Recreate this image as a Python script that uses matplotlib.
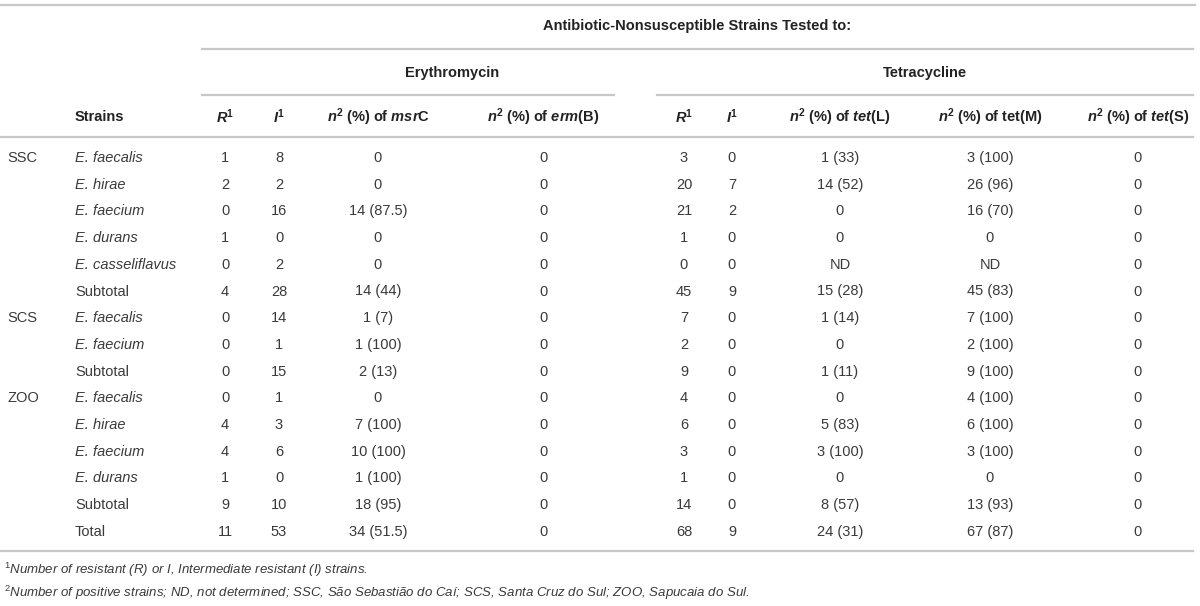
import matplotlib
matplotlib.use('Agg')
import matplotlib.pyplot as plt

plt.rcParams['font.family'] = ['Liberation Sans', 'DejaVu Sans']
plt.rcParams['mathtext.fontset'] = 'custom'
plt.rcParams['mathtext.rm'] = 'Liberation Sans'
plt.rcParams['mathtext.it'] = 'Liberation Sans:italic'
plt.rcParams['mathtext.bf'] = 'Liberation Sans:bold'
plt.rcParams['mathtext.bfit'] = 'Liberation Sans:bold:italic'

# table data
sites = ['SSC', '', '', '', '', '', 'SCS', '', '', 'ZOO', '', '', '', '', '']
strains = ['E. faecalis', 'E. hirae', 'E. faecium', 'E. durans', 'E. casseliflavus', 'Subtotal',
           'E. faecalis', 'E. faecium', 'Subtotal',
           'E. faecalis', 'E. hirae', 'E. faecium', 'E. durans', 'Subtotal',
           'Total']
ery_R = ['1', '2', '0', '1', '0', '4', '0', '0', '0', '0', '4', '4', '1', '9', '11']
ery_I = ['8', '2', '16', '0', '2', '28', '14', '1', '15', '1', '3', '6', '0', '10', '53']
msrC = ['0', '0', '14 (87.5)', '0', '0', '14 (44)', '1 (7)', '1 (100)', '2 (13)',
        '0', '7 (100)', '10 (100)', '1 (100)', '18 (95)', '34 (51.5)']
ermB = ['0'] * 15
tet_R = ['3', '20', '21', '1', '0', '45', '7', '2', '9', '4', '6', '3', '1', '14', '68']
tet_I = ['0', '7', '2', '0', '0', '9', '0', '0', '0', '0', '0', '0', '0', '0', '9']
tetL = ['1 (33)', '14 (52)', '0', '0', 'ND', '15 (28)', '1 (14)', '0', '1 (11)',
        '0', '5 (83)', '3 (100)', '0', '8 (57)', '24 (31)']
tetM = ['3 (100)', '26 (96)', '16 (70)', '0', 'ND', '45 (83)', '7 (100)', '2 (100)', '9 (100)',
        '4 (100)', '6 (100)', '3 (100)', '0', '13 (93)', '67 (87)']
tetS = ['0'] * 15

col_headers = [r'$\mathbfit{R}^{\mathbf{1}}$', r'$\mathbfit{I}^{\mathbf{1}}$',
               r'$\mathbfit{n}^{\mathbf{2}}\mathbf{\ (\%)\ of\ }\mathbfit{msr}\mathbf{C}$',
               r'$\mathbfit{n}^{\mathbf{2}}\mathbf{\ (\%)\ of\ }\mathbfit{erm}\mathbf{(B)}$',
               r'$\mathbfit{R}^{\mathbf{1}}$', r'$\mathbfit{I}^{\mathbf{1}}$',
               r'$\mathbfit{n}^{\mathbf{2}}\mathbf{\ (\%)\ of\ }\mathbfit{tet}\mathbf{(L)}$',
               r'$\mathbfit{n}^{\mathbf{2}}\mathbf{\ (\%)\ of\ tet(M)}$',
               r'$\mathbfit{n}^{\mathbf{2}}\mathbf{\ (\%)\ of\ }\mathbfit{tet}\mathbf{(S)}$']
columns = [ery_R, ery_I, msrC, ermB, tet_R, tet_I, tetL, tetM, tetS]
col_x = [225, 279, 378, 543, 684, 732, 840, 990, 1138]

footnotes = [r'$^{\mathit{1}}$Number of resistant (R) or I, Intermediate resistant (I) strains.',
             r'$^{\mathit{2}}$Number of positive strains; ND, not determined; SSC, São Sebastião do Caí; '
             r'SCS, Santa Cruz do Sul; ZOO, Sapucaia do Sul.']

fig = plt.figure(figsize=(12, 6.06), dpi=100)
ax = fig.add_axes([0, 0, 1, 1])
ax.set_xlim(0, 1200)
ax.set_ylim(606, 0)
ax.axis('off')

line_c = '#c8c8c8'
txt_c = '#3a3a3a'
head_c = '#222222'
fs = 10.5

# horizontal rules
ax.plot([0, 1195], [5, 5], color=line_c, lw=1.6)
ax.plot([202, 1193], [49, 49], color=line_c, lw=1.6)
ax.plot([202, 614], [95, 95], color=line_c, lw=1.6)
ax.plot([657, 1193], [95, 95], color=line_c, lw=1.6)
ax.plot([0, 1193], [137, 137], color=line_c, lw=1.6)
ax.plot([0, 1193], [551, 551], color=line_c, lw=1.6)

# spanning headers
ax.text(697, 26, 'Antibiotic-Nonsusceptible Strains Tested to:', ha='center', va='center',
        fontsize=fs, fontweight='bold', color=head_c)
ax.text(452, 73, 'Erythromycin', ha='center', va='center', fontsize=fs, fontweight='bold', color=head_c)
ax.text(925, 73, 'Tetracycline', ha='center', va='center', fontsize=fs, fontweight='bold', color=head_c)

# column headers
ax.text(75, 117, 'Strains', ha='left', va='center', fontsize=fs, fontweight='bold', color=head_c)
for x, h in zip(col_x, col_headers):
    ax.text(x, 117, h, ha='center', va='center', fontsize=fs, color=head_c)

# body
row_h = 26.7
for i in range(len(strains)):
    y = 158 + i * row_h
    if sites[i]:
        ax.text(7, y, sites[i], ha='left', va='center', fontsize=fs, color=txt_c)
    style = 'italic' if strains[i].startswith('E.') else 'normal'
    ax.text(75, y, strains[i], ha='left', va='center', fontsize=fs, style=style, color=txt_c)
    for x, col in zip(col_x, columns):
        ax.text(x, y, col[i], ha='center', va='center', fontsize=fs, color=txt_c)

# footnotes
for j, note in enumerate(footnotes):
    ax.text(4, 570 + j * 23, note, ha='left', va='center', fontsize=9.5, style='italic', color=txt_c)

fig.savefig('out.png', dpi=100, facecolor='white')
